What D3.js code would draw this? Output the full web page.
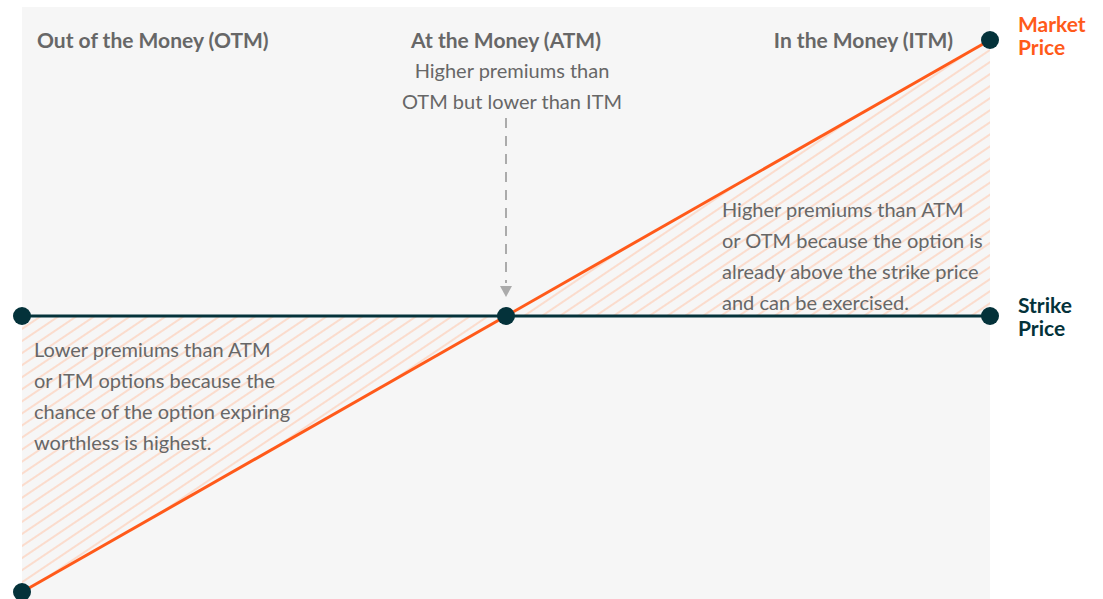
<!DOCTYPE html>
<html>
<head>
<meta charset="utf-8">
<script src="https://cdn.jsdelivr.net/npm/d3@7/dist/d3.min.js"></script>
<style>
  html, body { margin: 0; padding: 0; background: #ffffff; }
  svg { display: block; }
  text { font-family: Lato, "Open Sans", sans-serif; }
</style>
</head>
<body>
<svg id="chart" width="1103" height="599"></svg>
<script>
// ---- data ----
const stages = [0, 1, 2];               // OTM edge, ATM, ITM edge
const strikePrice = [50, 50, 50];
const marketPrice = [0, 50, 100];
const zoneTitles = ["Out of the Money (OTM)", "At the Money (ATM)", "In the Money (ITM)"];
const atmNote = ["Higher premiums than", "OTM but lower than ITM"];
const otmNote = ["Lower premiums than ATM", "or ITM options because the", "chance of the option expiring", "worthless is highest."];
const itmNote = ["Higher premiums than ATM", "or OTM because the option is", "already above the strike price", "and can be exercised."];
const seriesLabels = [["Market", "Price"], ["Strike", "Price"]];

// ---- layout ----
const panel = { x0: 22, x1: 990, y0: 7, y1: 599 };
const colors = { bg: "#f6f6f6", orange: "#ff5a1a", dark: "#04323a", text: "#676767", hatch: "#fcd3bf", dash: "#ababab" };

const svg = d3.select("#chart");
const x = d3.scaleLinear().domain([0, 2]).range([22, 990]);
const y = d3.scaleLinear().domain([0, 100]).range([592, 40]);

const defs = svg.append("defs");
const pat = defs.append("pattern")
  .attr("id", "hatch")
  .attr("patternUnits", "userSpaceOnUse")
  .attr("width", 20).attr("height", 10)
  .attr("patternTransform", "rotate(-34)");
pat.append("line")
  .attr("x1", 0).attr("x2", 20).attr("y1", 5).attr("y2", 5)
  .attr("stroke", colors.hatch).attr("stroke-width", 1.5);

// background panel
svg.append("rect")
  .attr("x", panel.x0).attr("y", panel.y0)
  .attr("width", panel.x1 - panel.x0).attr("height", panel.y1 - panel.y0)
  .attr("fill", colors.bg);

const data = stages.map((s, i) => ({ s, strike: strikePrice[i], market: marketPrice[i] }));

// hatched area between strike and market
svg.append("path")
  .datum(data)
  .attr("fill", "url(#hatch)")
  .attr("d", d3.area().x(d => x(d.s)).y0(d => y(d.strike)).y1(d => y(d.market)));

// zone titles
const titleAnchors = ["start", "middle", "end"];
const titleX = [37, 506, 953];
zoneTitles.forEach((t, i) => {
  svg.append("text")
    .attr("x", titleX[i]).attr("y", 48)
    .attr("text-anchor", titleAnchors[i])
    .attr("font-size", 21).attr("font-weight", 700)
    .attr("fill", colors.text)
    .text(t);
});

// ATM note
atmNote.forEach((t, i) => {
  svg.append("text")
    .attr("x", 512).attr("y", 78 + i * 31)
    .attr("text-anchor", "middle")
    .attr("font-size", 20).attr("fill", colors.text)
    .text(t);
});

// OTM note
otmNote.forEach((t, i) => {
  svg.append("text")
    .attr("x", 34).attr("y", 357 + i * 31)
    .attr("font-size", 20).attr("fill", colors.text)
    .text(t);
});

// ITM note
itmNote.forEach((t, i) => {
  svg.append("text")
    .attr("x", 722).attr("y", 217 + i * 31)
    .attr("font-size", 20).attr("fill", colors.text)
    .text(t);
});

// dashed arrow to ATM
const cx = x(stages[1]);
svg.append("line")
  .attr("x1", cx).attr("x2", cx)
  .attr("y1", 118).attr("y2", 283)
  .attr("stroke", colors.dash).attr("stroke-width", 2)
  .attr("stroke-dasharray", "10,8");
svg.append("path")
  .attr("d", `M${cx - 6},${286} L${cx + 6},${286} L${cx},${297} Z`)
  .attr("fill", colors.dash);

// strike line
svg.append("path")
  .datum(data)
  .attr("fill", "none").attr("stroke", colors.dark).attr("stroke-width", 3)
  .attr("d", d3.line().x(d => x(d.s)).y(d => y(d.strike)));

// market line
svg.append("path")
  .datum(data)
  .attr("fill", "none").attr("stroke", colors.orange).attr("stroke-width", 3)
  .attr("d", d3.line().x(d => x(d.s)).y(d => y(d.market)));

// points
const pts = [
  { s: stages[0], v: strikePrice[0] },
  { s: stages[1], v: strikePrice[1] },
  { s: stages[2], v: strikePrice[2] },
  { s: stages[0], v: marketPrice[0] },
  { s: stages[2], v: marketPrice[2] }
];
svg.selectAll("circle.pt").data(pts).enter().append("circle")
  .attr("class", "pt")
  .attr("cx", d => x(d.s)).attr("cy", d => y(d.v))
  .attr("r", 9).attr("fill", colors.dark);

// series labels
const labelColors = [colors.orange, colors.dark];
const labelY = [32, 313];
seriesLabels.forEach((lines, i) => {
  lines.forEach((t, j) => {
    svg.append("text")
      .attr("x", 1018).attr("y", labelY[i] + j * 23)
      .attr("font-size", 21).attr("font-weight", 700)
      .attr("fill", labelColors[i])
      .text(t);
  });
});
</script>
</body>
</html>
